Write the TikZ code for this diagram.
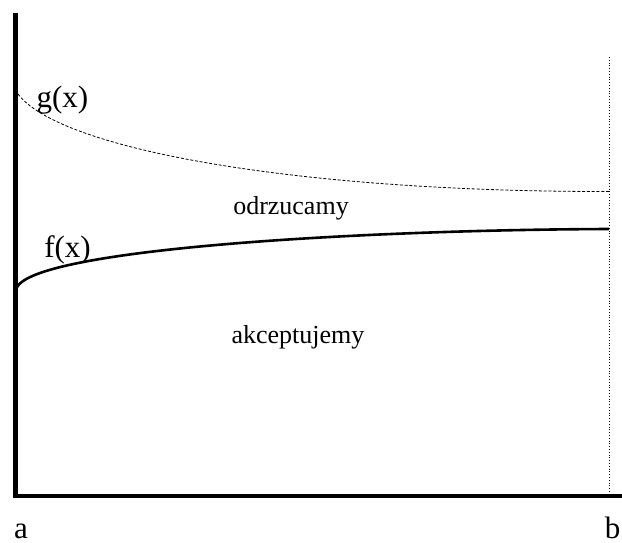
\documentclass[tikz,border=0pt]{standalone}
\usepackage{fontspec}
\setmainfont{Liberation Serif}
\begin{document}
\begin{tikzpicture}[x=1pt,y=-1pt,
  big/.style={inner sep=0pt,anchor=base,font=\fontsize{31}{33}\selectfont},
  mid/.style={inner sep=0pt,anchor=base,font=\fontsize{26}{28}\selectfont},
  axis/.style={line width=4.5pt},
  fcurve/.style={line width=2.6pt},
  gcurve/.style={line width=0.8pt,dash pattern=on 3pt off 1.8pt},
  bound/.style={line width=0.8pt,dotted}]
\useasboundingbox (0,0) rectangle (622,543);
% axes
\coordinate (top) at (15.5,13);
\coordinate (origin) at (15.5,496);
\coordinate (xstart) at (13,496);
\coordinate (xend) at (622,496);
\coordinate (btop) at (609,57);
\coordinate (bbot) at (609,496);
\draw[axis] (top) -- (origin);
\draw[axis] (xstart) -- (xend);
\draw[bound] (btop) -- (bbot);
% curves
\coordinate (g0) at (18,94);
\coordinate (g1) at (609,191.5);
\coordinate (f0) at (16,290);
\coordinate (f1) at (609,229);
\draw[gcurve] (g0) .. controls (60,150) and (300,192) .. (g1);
\draw[fcurve] (f0) .. controls (22,250) and (350,230) .. (f1);
% labels
\node[big] (gx) at (62.5,107) {g(x)};
\node[big] (fx) at (67.5,257) {f(x)};
\node[mid] (odrz) at (291,214) {odrzucamy};
\node[mid] (akc) at (298,343) {akceptujemy};
\node[big] (a) at (21,538.5) {a};
\node[big] (b) at (612.5,538.5) {b};
\end{tikzpicture}
\end{document}
